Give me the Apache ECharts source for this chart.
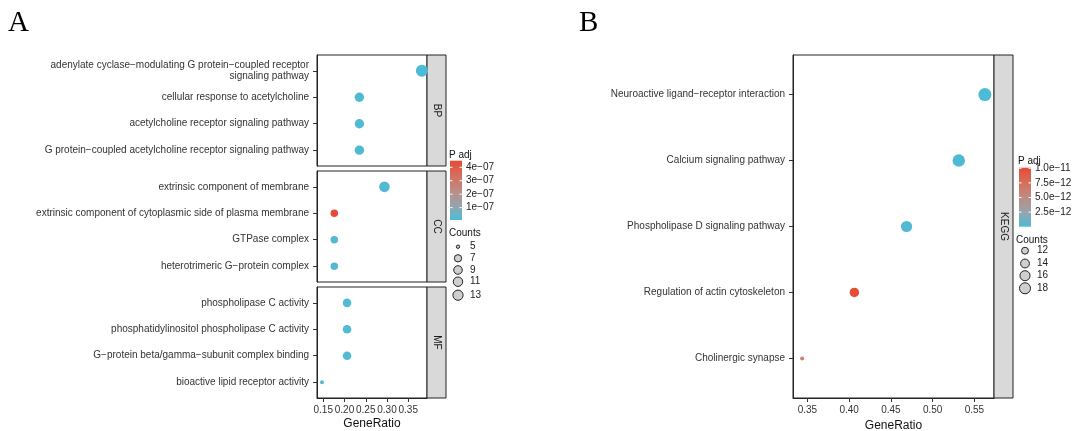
<!DOCTYPE html>
<html>
<head>
<meta charset="utf-8">
<script src="https://cdn.jsdelivr.net/npm/echarts@6/dist/echarts.min.js"></script>
<style>
  html, body { margin: 0; padding: 0; background: #fff; }
  #chart { width: 1072px; height: 431px; }
</style>
</head>
<body>
<div id="chart"></div>
<script>
// ---------------- DATA ----------------
const bpTerms = [
  'adenylate cyclase\u2212modulating G protein\u2212coupled receptor\nsignaling pathway',
  'cellular response to acetylcholine',
  'acetylcholine receptor signaling pathway',
  'G protein\u2212coupled acetylcholine receptor signaling pathway'
];
const bpRatio = [0.382, 0.235, 0.235, 0.235];
const bpCount = [13, 8, 8, 8];
const bpPadj  = [8.5e-9, 1.2e-8, 1.2e-8, 1.3e-8];

const ccTerms = [
  'extrinsic component of membrane',
  'extrinsic component of cytoplasmic side of plasma membrane',
  'GTPase complex',
  'heterotrimeric G\u2212protein complex'
];
const ccRatio = [0.294, 0.176, 0.176, 0.176];
const ccCount = [10, 6, 6, 6];
const ccPadj  = [1.5e-8, 4.49e-7, 2.0e-8, 2.0e-8];

const mfTerms = [
  'phospholipase C activity',
  'phosphatidylinositol phospholipase C activity',
  'G\u2212protein beta/gamma\u2212subunit complex binding',
  'bioactive lipid receptor activity'
];
const mfRatio = [0.206, 0.206, 0.206, 0.147];
const mfCount = [7, 7, 7, 5];
const mfPadj  = [1.5e-8, 1.5e-8, 1.5e-8, 2.5e-8];

const keggTerms = [
  'Neuroactive ligand\u2212receptor interaction',
  'Calcium signaling pathway',
  'Phospholipase D signaling pathway',
  'Regulation of actin cytoskeleton',
  'Cholinergic synapse'
];
const keggRatio = [0.5625, 0.53125, 0.46875, 0.40625, 0.34375];
const keggCount = [18, 17, 15, 13, 11];
const keggPadj  = [1e-14, 3e-14, 2e-13, 1.01e-11, 6.0e-12];

const xTicksA = [0.15, 0.20, 0.25, 0.30, 0.35];
const xTicksB = [0.35, 0.40, 0.45, 0.50, 0.55];
const padjTicksA = [1e-7, 2e-7, 3e-7, 4e-7];
const padjLabelsA = ['1e\u221207', '2e\u221207', '3e\u221207', '4e\u221207'];
const padjTicksB = [2.5e-12, 5e-12, 7.5e-12, 1e-11];
const padjLabelsB = ['2.5e\u221212', '5.0e\u221212', '7.5e\u221212', '1.0e\u221211'];
const countTicksA = [5, 7, 9, 11, 13];
const countTicksB = [12, 14, 16, 18];
const stripLabels = ['BP', 'CC', 'MF', 'KEGG'];

// ---------------- STYLE / LAYOUT ----------------
const FONT = '"Liberation Sans", Arial, Helvetica, sans-serif';
const colorStops = ['#4DBBD5', '#97A4AB', '#BD8B83', '#D56F5C', '#E64B35'];
const padjRangeA = [8e-9, 4.49e-7];
const padjRangeB = [1e-14, 1.01e-11];
const xRangeA = [0.1353, 0.3941];
const xRangeB = [0.3328, 0.5734];
const sizeA = c => 4 + 8 * Math.pow((c - 5) / 8, 0.4);
const sizeB = c => 4 + 9 * Math.pow((c - 11) / 7, 0.4);

const grids = [
  { left: 317, top: 55, width: 110, height: 111 },
  { left: 317, top: 171, width: 110, height: 111 },
  { left: 317, top: 287, width: 110, height: 111 },
  { left: 793, top: 55, width: 201, height: 343 }
];
const panels = [
  { terms: bpTerms, ratio: bpRatio, count: bpCount, padj: bpPadj, xr: xRangeA, ticks: xTicksA, size: sizeA, showX: false },
  { terms: ccTerms, ratio: ccRatio, count: ccCount, padj: ccPadj, xr: xRangeA, ticks: xTicksA, size: sizeA, showX: false },
  { terms: mfTerms, ratio: mfRatio, count: mfCount, padj: mfPadj, xr: xRangeA, ticks: xTicksA, size: sizeA, showX: true },
  { terms: keggTerms, ratio: keggRatio, count: keggCount, padj: keggPadj, xr: xRangeB, ticks: xTicksB, size: sizeB, showX: true }
];

const gridOpts = grids.map(g => Object.assign({
  show: true, borderColor: '#222', borderWidth: 1, backgroundColor: '#fff',
  containLabel: false, outerBoundsMode: 'none'
}, g));

const xAxes = panels.map((p, i) => ({
  type: 'value', gridIndex: i, min: p.xr[0], max: p.xr[1],
  show: p.showX,
  splitLine: { show: false },
  axisLine: { show: true, onZero: false, lineStyle: { color: '#222', width: 1 } },
  axisTick: { show: true, length: 4, customValues: p.ticks, lineStyle: { color: '#333' } },
  axisLabel: { show: true, customValues: p.ticks, margin: 7, fontSize: 10, fontFamily: FONT, color: '#333',
               formatter: v => v.toFixed(2) },
  name: 'GeneRatio', nameLocation: 'middle', nameGap: 20,
  nameTextStyle: { fontSize: 12, fontFamily: FONT, color: '#111' }
}));

const yAxes = panels.map((p, i) => {
  const idx = p.terms.map((t, k) => k);
  return {
    type: 'value', gridIndex: i, inverse: true,
    min: -0.6, max: p.terms.length - 1 + 0.6,
    splitLine: { show: false },
    axisLine: { show: true, onZero: false, lineStyle: { color: '#222', width: 1 } },
    axisTick: { show: true, length: 4, customValues: idx, lineStyle: { color: '#333' } },
    axisLabel: { show: true, customValues: idx, margin: 8, fontSize: 10, fontFamily: FONT, color: '#333',
                 lineHeight: 11.5, align: 'right',
                 formatter: v => p.terms[Math.round(v)] }
  };
});

const series = panels.map((p, i) => ({
  type: 'scatter', xAxisIndex: i, yAxisIndex: i,
  data: p.terms.map((t, k) => [p.ratio[k], k, p.padj[k], p.count[k]]),
  symbolSize: v => p.size(v[3]),
  itemStyle: { opacity: 1 },
  emphasis: { disabled: true }
}));

// ---------------- GRAPHIC (strips, legends, panel tags) ----------------
const graphic = [];
function txt(x, y, text, opts) {
  graphic.push(Object.assign({
    type: 'text', x: x, y: y, silent: true,
    style: Object.assign({ text: text, font: '10px ' + FONT, fill: '#222', align: 'left', verticalAlign: 'middle' },
                         (opts && opts.style) || {})
  }, opts && opts.rotation !== undefined ? { rotation: opts.rotation } : {}));
}
// strips
const stripX = [427, 427, 427, 994];
grids.forEach((g, i) => {
  graphic.push({ type: 'rect', silent: true, shape: { x: stripX[i], y: g.top, width: 19, height: g.height },
                 style: { fill: '#D9D9D9', stroke: '#222', lineWidth: 1 } });
  txt(stripX[i] + 9.5, g.top + g.height / 2, stripLabels[i],
      { rotation: -Math.PI / 2, style: { align: 'center', fill: '#1a1a1a' } });
});
// panel tags
txt(8, 23, 'A', { style: { font: '29px "Liberation Serif", "Times New Roman", serif', fill: '#000' } });
txt(579, 23, 'B', { style: { font: '29px "Liberation Serif", "Times New Roman", serif', fill: '#000' } });

function colorbar(x, top, h, range, ticks, labels, titleY, labelX) {
  txt(x - 1, titleY, 'P adj', { style: { fill: '#111' } });
  graphic.push({ type: 'rect', silent: true, shape: { x: x, y: top, width: 12, height: h },
    style: { fill: { type: 'linear', x: 0, y: 0, x2: 0, y2: 1,
      colorStops: colorStops.slice().reverse().map((c, k) => ({ offset: k / (colorStops.length - 1), color: c })) } } });
  ticks.forEach((v, k) => {
    const y = top + (range[1] - v) / (range[1] - range[0]) * h;
    graphic.push({ type: 'line', silent: true, shape: { x1: x, y1: y, x2: x + 2.5, y2: y }, style: { stroke: '#fff', lineWidth: 1 } });
    graphic.push({ type: 'line', silent: true, shape: { x1: x + 9.5, y1: y, x2: x + 12, y2: y }, style: { stroke: '#fff', lineWidth: 1 } });
    txt(labelX, y, labels[k], { style: { fill: '#222' } });
  });
}
function sizeLegend(cx, titleY, ys, counts, sizeFn, labelX) {
  txt(cx - 9, titleY, 'Counts', { style: { fill: '#111' } });
  counts.forEach((c, k) => {
    graphic.push({ type: 'circle', silent: true, shape: { cx: cx, cy: ys[k], r: sizeFn(c) * 0.85 / 2 },
                   style: { fill: '#cfcfcf', stroke: '#222', lineWidth: 1 } });
    txt(labelX, ys[k], String(c), { style: { fill: '#222' } });
  });
}
colorbar(450, 160.7, 59.3, padjRangeA, padjTicksA, padjLabelsA, 155, 466);
sizeLegend(458, 233, [246.7, 258.3, 270, 281.7, 295.2], countTicksA, sizeA, 470);
colorbar(1019, 167.7, 59, padjRangeB, padjTicksB, padjLabelsB, 161, 1035);
sizeLegend(1025, 240, [250.7, 263.5, 275.7, 288.3], countTicksB, sizeB, 1037);

const option = {
  animation: false,
  backgroundColor: '#fff',
  grid: gridOpts,
  xAxis: xAxes,
  yAxis: yAxes,
  visualMap: [
    { type: 'continuous', show: false, seriesIndex: [0, 1, 2], dimension: 2,
      min: padjRangeA[0], max: padjRangeA[1], inRange: { color: colorStops } },
    { type: 'continuous', show: false, seriesIndex: [3], dimension: 2,
      min: padjRangeB[0], max: padjRangeB[1], inRange: { color: colorStops } }
  ],
  series: series,
  graphic: graphic
};
const chart = echarts.init(document.getElementById('chart'), null, { renderer: 'canvas' });
chart.setOption(option);
</script>
</body>
</html>
